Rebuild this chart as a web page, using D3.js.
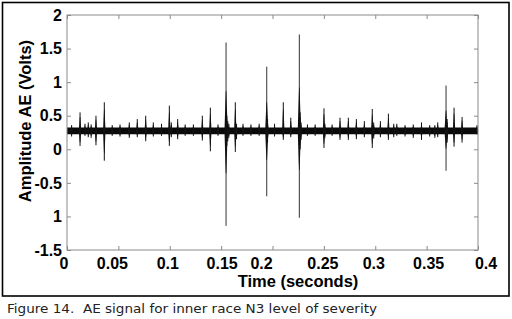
<!DOCTYPE html>
<html><head><meta charset="utf-8">
<script src="https://cdn.jsdelivr.net/npm/d3@7"></script>
<style>body{margin:0;background:#fff}svg{display:block}</style>
</head><body>
<svg id="c" width="512" height="319"></svg>
<script>
// ---- data ----
const xTicks = [0, 0.05, 0.1, 0.15, 0.2, 0.25, 0.3, 0.35, 0.4];
const xTickLabels = ["0", "0.05", "0.1", "0.15", "0.2", "0.25", "0.3", "0.35", "0.4"];
const yTicks = [2, 1.5, 1, 0.5, 0, -0.5, -1, -1.5];
const yTickLabels = ["2", "1.5", "1", "0.5", "0", "-0.5", "1", "-1.5"];
const bandTime = [0, 0.4];
const bandHigh = [0.325, 0.325];
const bandLow = [0.225, 0.225];
const spikeTime = [0.0045,0.0127,0.0175,0.0207,0.0235,0.0282,0.0363,0.0440,0.0516,0.0606,0.0684,0.0766,0.0840,0.0920,0.0996,0.1015,0.1077,0.1150,0.1230,0.1317,0.1395,0.1470,0.1548,0.1556,0.1565,0.1575,0.1638,0.1650,0.1713,0.1790,0.1870,0.1944,0.1952,0.2020,0.2105,0.2178,0.2261,0.2269,0.2278,0.2340,0.2415,0.2501,0.2510,0.2580,0.2657,0.2738,0.2816,0.2894,0.2971,0.2985,0.3050,0.3128,0.3180,0.3210,0.3290,0.3370,0.3450,0.3530,0.3580,0.3608,0.3689,0.3700,0.3767,0.3845,0.3990];
const spikeHigh = [0.36,0.55,0.38,0.40,0.37,0.50,0.70,0.36,0.37,0.40,0.45,0.50,0.40,0.38,0.65,0.40,0.45,0.37,0.37,0.50,0.62,0.37,1.59,0.50,0.42,0.38,0.70,0.38,0.38,0.37,0.38,1.23,0.45,0.38,0.70,0.47,1.71,0.55,0.40,0.37,0.37,0.61,0.38,0.37,0.47,0.47,0.45,0.42,0.60,0.40,0.42,0.53,0.38,0.38,0.36,0.37,0.40,0.36,0.36,0.40,0.95,0.45,0.62,0.48,0.36];
const spikeLow = [0.19,0.05,0.20,0.18,0.17,0.06,-0.17,0.20,0.19,0.17,0.18,0.12,0.19,0.20,0.05,0.18,0.15,0.20,0.20,0.13,-0.03,0.20,-1.14,0.05,0.12,0.17,-0.04,0.15,0.20,0.20,0.20,-0.70,0.10,0.19,0.14,0.18,-1.02,0.00,0.14,0.20,0.20,0.02,0.17,0.20,0.14,0.14,0.15,0.18,0.02,0.16,0.18,0.14,0.18,0.20,0.19,0.17,0.14,0.19,0.17,0.18,-0.32,0.10,0.04,0.10,0.22];
const xLabel = "Time (seconds)";
const yLabel = "Amplitude AE (Volts)";
const caption = "Figure 14.  AE signal for inner race N3 level of severity";

// ---- layout ----
const L = 67, R = 478, T = 15, B = 250;
const xLabelShift = [-3, -6, -2, 1, -11, -1, -1.5, 2, 8];
const svg = d3.select("#c");
const x = d3.scaleLinear().domain([0, 0.4]).range([L, R]);
const y = d3.scaleLinear().domain([-1.5, 2]).range([B, T]);

// outer frame
svg.append("rect").attr("x", 2.5).attr("y", 2.5).attr("width", 506.5).attr("height", 293.5)
  .attr("fill", "none").attr("stroke", "#000").attr("stroke-width", 1.6);

// signal band
const band = bandTime.map((t, i) => ({t, hi: bandHigh[i], lo: bandLow[i]}));
svg.append("path").datum(band)
  .attr("d", d3.area().x(d => x(d.t)).y0(d => y(d.lo)).y1(d => y(d.hi)))
  .attr("fill", "#0a0a0a");

// spikes
const spikes = spikeTime.map((t, i) => ({t, hi: spikeHigh[i], lo: spikeLow[i]}));
const mid = 0.275;
const g = svg.append("g");
spikes.forEach(s => {
  const cx = x(s.t);
  const big = (s.hi - s.lo) > 1;
  g.append("line").attr("x1", cx).attr("x2", cx).attr("y1", y(s.hi)).attr("y2", y(s.lo))
    .attr("stroke", big ? "#333" : "#111").attr("stroke-width", 1);
  const wb = big ? 3.2 : 2.4;
  const up = mid + (s.hi - mid) * (big ? 0.45 : 0.75);
  const dn = mid + (s.lo - mid) * (big ? 0.45 : 0.75);
  g.append("path").attr("d",
    `M${cx - wb / 2},${y(mid)} L${cx - 0.3},${y(up)} L${cx + 0.3},${y(up)} L${cx + wb / 2},${y(mid)} L${cx + 0.3},${y(dn)} L${cx - 0.3},${y(dn)} Z`)
    .attr("fill", "#111");
});

// axes box (MATLAB style, inward ticks on all sides)
const axCol = "#8a8a8a";
svg.append("rect").attr("x", L).attr("y", T).attr("width", R - L).attr("height", B - T)
  .attr("fill", "none").attr("stroke", axCol).attr("stroke-width", 1);
const font = "'Liberation Sans', Arial, sans-serif";
const xb = svg.append("g").attr("transform", `translate(0,${B})`)
  .call(d3.axisTop(x).tickValues(xTicks).tickSize(4).tickFormat(""));
const xt = svg.append("g").attr("transform", `translate(0,${T})`)
  .call(d3.axisBottom(x).tickValues(xTicks).tickSize(4).tickFormat(""));
const yl = svg.append("g").attr("transform", `translate(${L},0)`)
  .call(d3.axisRight(y).tickValues(yTicks).tickSize(4).tickFormat(""));
const yr = svg.append("g").attr("transform", `translate(${R},0)`)
  .call(d3.axisLeft(y).tickValues(yTicks).tickSize(4).tickFormat(""));
[xb, xt, yl, yr].forEach(a => {
  a.select(".domain").remove();
  a.selectAll(".tick line").attr("stroke", axCol);
});

// tick labels
svg.append("g").selectAll("text").data(xTicks).join("text")
  .attr("x", (d, i) => x(d) + xLabelShift[i]).attr("y", 268.5)
  .attr("text-anchor", "middle").attr("font-family", font).attr("font-weight", "bold")
  .attr("font-size", 16).attr("fill", "#000").text((d, i) => xTickLabels[i]);
svg.append("g").selectAll("text").data(yTicks).join("text")
  .attr("x", 62).attr("y", d => y(d)).attr("dy", "0.36em")
  .attr("text-anchor", "end").attr("font-family", font).attr("font-weight", "bold")
  .attr("font-size", 16).attr("fill", "#000").text((d, i) => yTickLabels[i]);

// axis labels
svg.append("text").attr("x", 298).attr("y", 287).attr("text-anchor", "middle")
  .attr("font-family", font).attr("font-weight", "bold").attr("font-size", 16.5).text(xLabel);
svg.append("text").attr("transform", "translate(31,121) rotate(-90)").attr("text-anchor", "middle")
  .attr("font-family", font).attr("font-weight", "bold").attr("font-size", 16.5).text(yLabel);

// caption
svg.append("text").attr("x", 7).attr("y", 313).attr("font-family", "'DejaVu Sans', sans-serif")
  .style("white-space", "pre")
  .attr("font-size", 12.5).attr("fill", "#222").attr("textLength", 370).attr("lengthAdjust", "spacingAndGlyphs")
  .text(caption);
</script>
</body></html>
